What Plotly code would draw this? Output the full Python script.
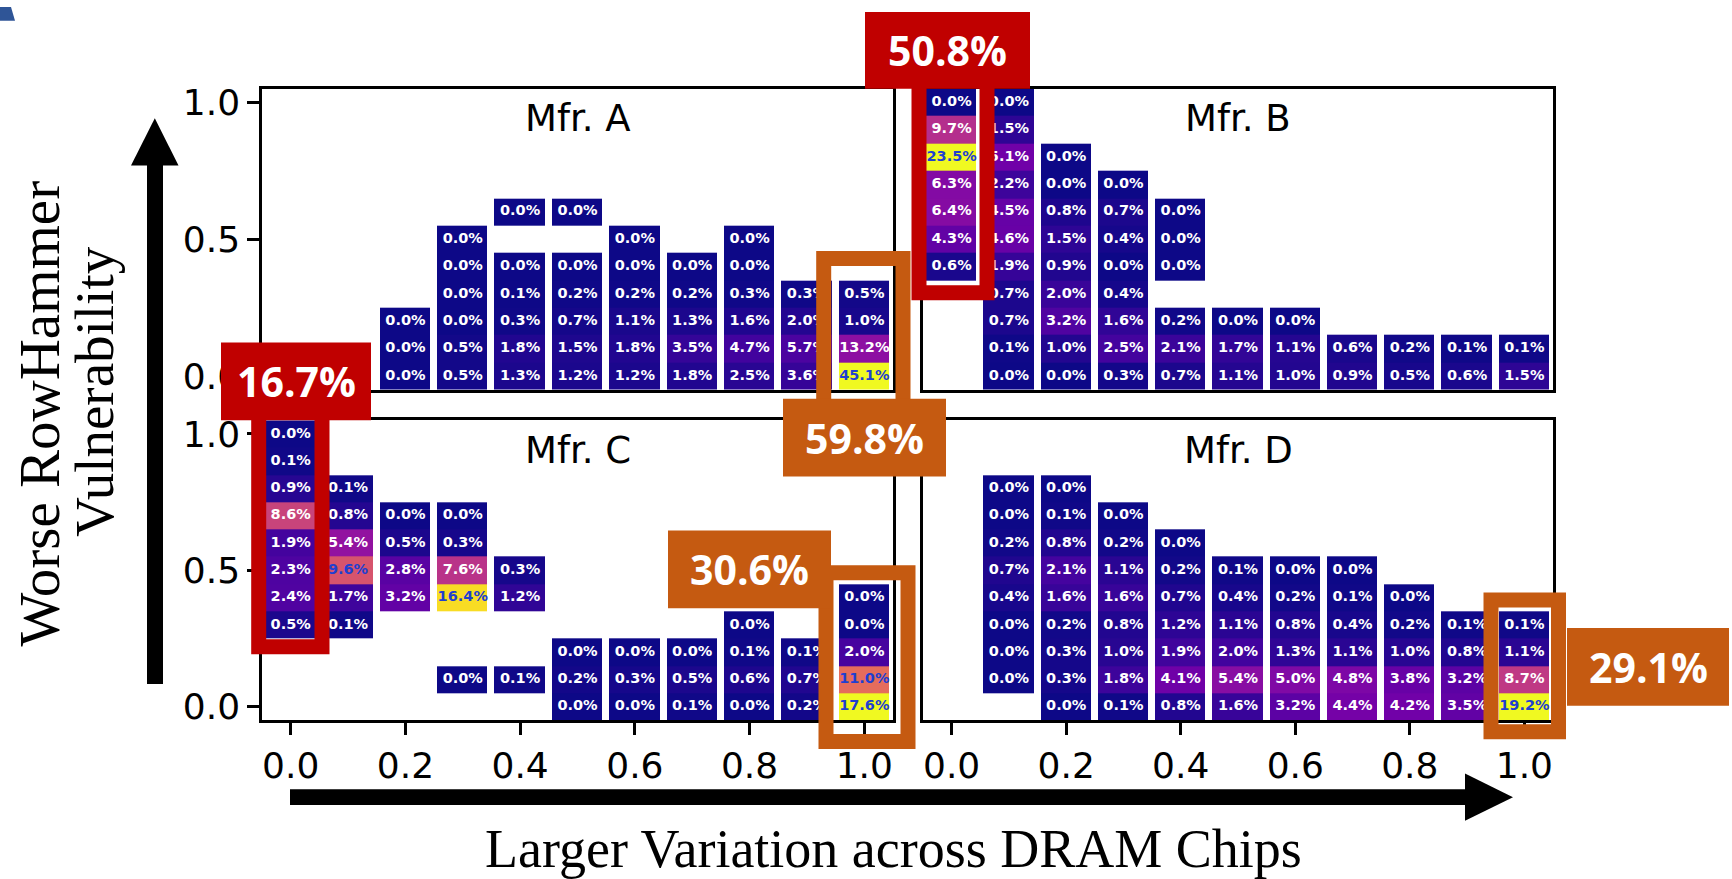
import plotly.graph_objects as go

# ---------------------------------------------------------------------------
# Data: share of chips (%) per cell; rows run from y=1.0 (top) to y=0.0,
# columns from x=0.0 to x=1.0. None = no chips in that cell.
# ---------------------------------------------------------------------------
N = None
X_VALUES = [0.0, 0.1, 0.2, 0.3, 0.4, 0.5, 0.6, 0.7, 0.8, 0.9, 1.0]
Y_VALUES = [1.0, 0.9, 0.8, 0.7, 0.6, 0.5, 0.4, 0.3, 0.2, 0.1, 0.0]
X_TICKS = [0.0, 0.2, 0.4, 0.6, 0.8, 1.0]
X_TICK_LABELS = ["0.0", "0.2", "0.4", "0.6", "0.8", "1.0"]
Y_TICKS = [0.0, 0.5, 1.0]
Y_TICK_LABELS = ["0.0", "0.5", "1.0"]

MFR_A = [
    [N, N, N, N, N, N, N, N, N, N, N],
    [N, N, N, N, N, N, N, N, N, N, N],
    [N, N, N, N, N, N, N, N, N, N, N],
    [N, N, N, N, N, N, N, N, N, N, N],
    [N, N, N, N, 0.0, 0.0, N, N, N, N, N],
    [N, N, N, 0.0, N, N, 0.0, N, 0.0, N, N],
    [N, N, N, 0.0, 0.0, 0.0, 0.0, 0.0, 0.0, N, N],
    [N, N, N, 0.0, 0.1, 0.2, 0.2, 0.2, 0.3, 0.3, 0.5],
    [N, N, 0.0, 0.0, 0.3, 0.7, 1.1, 1.3, 1.6, 2.0, 1.0],
    [N, N, 0.0, 0.5, 1.8, 1.5, 1.8, 3.5, 4.7, 5.7, 13.2],
    [N, N, 0.0, 0.5, 1.3, 1.2, 1.2, 1.8, 2.5, 3.6, 45.1],
]

MFR_B = [
    [0.0, 0.0, N, N, N, N, N, N, N, N, N],
    [9.7, 1.5, N, N, N, N, N, N, N, N, N],
    [23.5, 5.1, 0.0, N, N, N, N, N, N, N, N],
    [6.3, 2.2, 0.0, 0.0, N, N, N, N, N, N, N],
    [6.4, 4.5, 0.8, 0.7, 0.0, N, N, N, N, N, N],
    [4.3, 4.6, 1.5, 0.4, 0.0, N, N, N, N, N, N],
    [0.6, 1.9, 0.9, 0.0, 0.0, N, N, N, N, N, N],
    [N, 0.7, 2.0, 0.4, N, N, N, N, N, N, N],
    [N, 0.7, 3.2, 1.6, 0.2, 0.0, 0.0, N, N, N, N],
    [N, 0.1, 1.0, 2.5, 2.1, 1.7, 1.1, 0.6, 0.2, 0.1, 0.1],
    [N, 0.0, 0.0, 0.3, 0.7, 1.1, 1.0, 0.9, 0.5, 0.6, 1.5],
]

MFR_C = [
    [0.0, N, N, N, N, N, N, N, N, N, N],
    [0.1, N, N, N, N, N, N, N, N, N, N],
    [0.9, 0.1, N, N, N, N, N, N, N, N, N],
    [8.6, 0.8, 0.0, 0.0, N, N, N, N, N, N, N],
    [1.9, 5.4, 0.5, 0.3, N, N, N, N, N, N, N],
    [2.3, 9.6, 2.8, 7.6, 0.3, N, N, N, N, N, N],
    [2.4, 1.7, 3.2, 16.4, 1.2, N, N, N, N, N, 0.0],
    [0.5, 0.1, N, N, N, N, N, N, 0.0, N, 0.0],
    [N, N, N, N, N, 0.0, 0.0, 0.0, 0.1, 0.1, 2.0],
    [N, N, N, 0.0, 0.1, 0.2, 0.3, 0.5, 0.6, 0.7, 11.0],
    [N, N, N, N, N, 0.0, 0.0, 0.1, 0.0, 0.2, 17.6],
]

MFR_D = [
    [N, N, N, N, N, N, N, N, N, N, N],
    [N, N, N, N, N, N, N, N, N, N, N],
    [N, 0.0, 0.0, N, N, N, N, N, N, N, N],
    [N, 0.0, 0.1, 0.0, N, N, N, N, N, N, N],
    [N, 0.2, 0.8, 0.2, 0.0, N, N, N, N, N, N],
    [N, 0.7, 2.1, 1.1, 0.2, 0.1, 0.0, 0.0, N, N, N],
    [N, 0.4, 1.6, 1.6, 0.7, 0.4, 0.2, 0.1, 0.0, N, N],
    [N, 0.0, 0.2, 0.8, 1.2, 1.1, 0.8, 0.4, 0.2, 0.1, 0.1],
    [N, 0.0, 0.3, 1.0, 1.9, 2.0, 1.3, 1.1, 1.0, 0.8, 1.1],
    [N, 0.0, 0.3, 1.8, 4.1, 5.4, 5.0, 4.8, 3.8, 3.2, 8.7],
    [N, N, 0.0, 0.1, 0.8, 1.6, 3.2, 4.4, 4.2, 3.5, 19.2],
]

PANEL_NAMES = ["Mfr. A", "Mfr. B", "Mfr. C", "Mfr. D"]
PANEL_DATA = [MFR_A, MFR_B, MFR_C, MFR_D]

# ---------------------------------------------------------------------------
# Page geometry (pixels) and helpers
# ---------------------------------------------------------------------------
W, H = 1732, 879


def fx(px):
    return px / W


def fy(py):
    return 1 - py / H


# subplot frames in pixels: (left, right, top, bottom)
FRAMES = [
    (262, 893, 83, 389),
    (923, 1553, 83, 389),
    (262, 893, 420, 725),
    (923, 1553, 420, 725),
]

RED = "#c00000"
ORANGE = "#c55a11"
BLUE_TEXT = "#1f3fd0"
CELL_FONT = "DejaVu Sans"

fig = go.Figure()

for i, (name, grid) in enumerate(zip(PANEL_NAMES, PANEL_DATA)):
    sfx = "" if i == 0 else str(i + 1)
    xa, ya = "x" + sfx, "y" + sfx
    zmax = max(v for row in grid for v in row if v is not None)

    # heat cells, rows flipped so y increases upward
    fig.add_trace(go.Heatmap(
        x=X_VALUES, y=Y_VALUES[::-1], z=grid[::-1],
        colorscale="Plasma", zmin=0, zmax=zmax,
        xgap=7, ygap=0, showscale=False, hoverinfo="skip",
        xaxis=xa, yaxis=ya,
    ))

    # percentage labels in every cell
    tx, ty, tt, tc = [], [], [], []
    for r, yv in enumerate(Y_VALUES):
        for c, xv in enumerate(X_VALUES):
            v = grid[r][c]
            if v is None:
                continue
            tx.append(xv)
            ty.append(yv)
            tt.append(f"{v:.1f}%")
            tc.append(BLUE_TEXT if v / zmax > 0.5 else "white")
    fig.add_trace(go.Scatter(
        x=tx, y=ty, text=tt, mode="text",
        textfont=dict(family=CELL_FONT, size=14.5, color=tc, weight="bold"),
        hoverinfo="skip", showlegend=False, xaxis=xa, yaxis=ya,
    ))

layout = dict(
    width=W, height=H, margin=dict(l=0, r=0, t=0, b=0),
    paper_bgcolor="white", plot_bgcolor="white", showlegend=False,
)

TICK_FONT = dict(family="DejaVu Sans", size=36, color="black")

for i, (l, r, t, b) in enumerate(FRAMES):
    sfx = "" if i == 0 else str(i + 1)
    bottom_row = i >= 2
    left_col = i % 2 == 0
    layout["xaxis" + sfx] = dict(
        domain=[fx(l), fx(r)], range=[-0.05, 1.05], anchor="y" + sfx,
        showgrid=False, zeroline=False, showline=True, mirror=True,
        linecolor="black", linewidth=2.5,
        tickvals=X_TICKS, ticktext=X_TICK_LABELS,
        ticks="outside" if bottom_row else "", ticklen=12, tickwidth=2.5,
        tickcolor="black", showticklabels=bottom_row, tickfont=TICK_FONT,
        fixedrange=True,
    )
    layout["yaxis" + sfx] = dict(
        domain=[fy(b), fy(t)], range=[-0.05, 1.05], anchor="x" + sfx,
        showgrid=False, zeroline=False, showline=True, mirror=True,
        linecolor="black", linewidth=2.5,
        tickvals=Y_TICKS, ticktext=Y_TICK_LABELS,
        ticks="outside" if left_col else "", ticklen=12, tickwidth=2.5,
        tickcolor="black", showticklabels=left_col, tickfont=TICK_FONT,
        fixedrange=True,
    )

fig.update_layout(**layout)

annotations = []
shapes = []

# panel titles
for i, name in enumerate(PANEL_NAMES):
    sfx = "" if i == 0 else str(i + 1)
    annotations.append(dict(
        text=name, xref=f"x{sfx} domain", yref=f"y{sfx} domain",
        x=0.5, y=0.90, xanchor="center", yanchor="middle", showarrow=False,
        font=dict(family="DejaVu Sans", size=37, color="black"),
    ))

# column-total callouts: (panel, column, colour, label box px, outline px)
CALLOUTS = [
    (1, 0, RED, (865, 1030, 5, 83), (919, 987, 75, 290.5)),
    (2, 0, RED, (221, 371, 341, 420), (258.7, 322, 410, 650)),
    (0, 10, ORANGE, (783, 946, 398, 477), (823.7, 903, 255.5, 410)),
    (2, 10, ORANGE, (668, 831, 532, 611), (826, 908, 575, 746.5)),
    (3, 10, ORANGE, (1567, 1729, 631, 710), (1491, 1558.5, 602.5, 736.5)),
]

for panel, col, color, box, outline in CALLOUTS:
    grid = PANEL_DATA[panel]
    total = sum(row[col] for row in grid if row[col] is not None)
    ox0, ox1, oy0, oy1 = outline
    shapes.append(dict(
        type="rect", xref="paper", yref="paper",
        x0=fx(ox0), x1=fx(ox1), y0=fy(oy1), y1=fy(oy0),
        line=dict(color=color, width=15), fillcolor="rgba(0,0,0,0)",
        layer="above",
    ))
    bx0, bx1, by0, by1 = box
    shapes.append(dict(
        type="rect", xref="paper", yref="paper",
        x0=fx(bx0), x1=fx(bx1), y0=fy(by1), y1=fy(by0),
        line=dict(width=0), fillcolor=color, layer="above",
    ))
    annotations.append(dict(
        text=f"{total:.1f}%", xref="paper", yref="paper",
        x=fx((bx0 + bx1) / 2), y=fy((by0 + by1) / 2),
        xanchor="center", yanchor="middle", showarrow=False,
        font=dict(family="Open Sans", size=41, color="white", weight="bold"),
    ))

# big direction arrows
ARROW = "black"
# vertical: shaft + head
shapes.append(dict(type="rect", xref="paper", yref="paper",
                   x0=fx(147), x1=fx(163), y0=fy(688), y1=fy(158),
                   line=dict(width=0), fillcolor=ARROW, layer="above"))
shapes.append(dict(type="path", xref="paper", yref="paper",
                   path=f"M {fx(131)} {fy(161)} L {fx(178.5)} {fy(161)} "
                        f"L {fx(154.8)} {fy(113)} Z",
                   line=dict(width=0), fillcolor=ARROW, layer="above"))
# horizontal: shaft + head
shapes.append(dict(type="rect", xref="paper", yref="paper",
                   x0=fx(290), x1=fx(1468), y0=fy(811), y1=fy(795),
                   line=dict(width=0), fillcolor=ARROW, layer="above"))
shapes.append(dict(type="path", xref="paper", yref="paper",
                   path=f"M {fx(1465)} {fy(779)} L {fx(1465)} {fy(827)} "
                        f"L {fx(1513)} {fy(803)} Z",
                   line=dict(width=0), fillcolor=ARROW, layer="above"))

# small corner mark at the top left
shapes.append(dict(type="path", xref="paper", yref="paper",
                   path=f"M 0 {fy(0)} L {fx(11)} {fy(0)} L {fx(15)} {fy(14)} "
                        f"L 0 {fy(14)} Z",
                   line=dict(width=0), fillcolor="#2f5597", layer="above"))

# axis captions
annotations.append(dict(
    text="Larger Variation across DRAM Chips", xref="paper", yref="paper",
    x=fx(893), y=fy(856), xanchor="center", yanchor="middle", showarrow=False,
    font=dict(family="Liberation Serif", size=54, color="black"),
))
annotations.append(dict(
    text="Worse RowHammer", xref="paper", yref="paper",
    x=fx(39), y=fy(413), xanchor="center", yanchor="middle", showarrow=False,
    textangle=-90, font=dict(family="Liberation Serif", size=57, color="black"),
))
annotations.append(dict(
    text="Vulnerability", xref="paper", yref="paper",
    x=fx(95), y=fy(391), xanchor="center", yanchor="middle", showarrow=False,
    textangle=-90, font=dict(family="Liberation Serif", size=55, color="black"),
))

fig.update_layout(annotations=annotations, shapes=shapes)

fig.write_html("out.html")
